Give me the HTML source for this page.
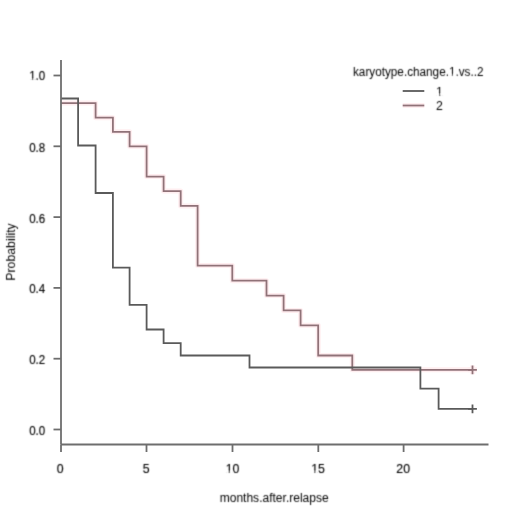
<!DOCTYPE html>
<html><head><meta charset="utf-8"><style>
html,body{margin:0;padding:0;background:#fff;}
svg{display:block;}
text{font-family:"Liberation Sans",sans-serif;font-size:12.3px;fill:#000;stroke:#000;stroke-width:0.0px;}
.tk{stroke-width:0.15px;font-size:12.9px;}
</style></head><body>
<svg width="520" height="520" viewBox="0 0 520 520">
<defs><filter id="s" filterUnits="userSpaceOnUse" x="0" y="0" width="520" height="520"><feConvolveMatrix order="3" kernelMatrix="1 4 1 4 16 4 1 4 1" divisor="36" preserveAlpha="false"/></filter></defs>
<rect width="520" height="520" fill="#fff"/>
<g>
<path d="M61.00,103.10 L95.60,103.10 L95.60,117.70 L112.90,117.70 L112.90,131.80 L129.60,131.80 L129.60,146.30 L146.60,146.30 L146.60,176.60 L163.60,176.60 L163.60,191.10 L180.70,191.10 L180.70,205.90 L197.60,205.90 L197.60,265.60 L232.30,265.60 L232.30,280.70 L266.50,280.70 L266.50,295.60 L283.60,295.60 L283.60,310.40 L300.60,310.40 L300.60,325.30 L318.20,325.30 L318.20,355.50 L352.30,355.50 L352.30,369.80 L472.50,369.80" stroke="#ffeef0" stroke-width="5.0" fill="none" stroke-linejoin="round"/><path d="M468.10,369.80 L476.90,369.80 M472.50,365.40 L472.50,374.20" stroke="#ffeef0" stroke-width="5.0" fill="none"/><line x1="402.7" y1="105.5" x2="424.3" y2="105.5" stroke="#ffeef0" stroke-width="5.0"/>
<path d="M61.00,103.10 L95.60,103.10 L95.60,117.70 L112.90,117.70 L112.90,131.80 L129.60,131.80 L129.60,146.30 L146.60,146.30 L146.60,176.60 L163.60,176.60 L163.60,191.10 L180.70,191.10 L180.70,205.90 L197.60,205.90 L197.60,265.60 L232.30,265.60 L232.30,280.70 L266.50,280.70 L266.50,295.60 L283.60,295.60 L283.60,310.40 L300.60,310.40 L300.60,325.30 L318.20,325.30 L318.20,355.50 L352.30,355.50 L352.30,369.80 L472.50,369.80" stroke="#907278" stroke-width="1.8" fill="none"/>
<path d="M468.10,369.80 L476.90,369.80 M472.50,365.40 L472.50,374.20" stroke="#907278" stroke-width="1.8" fill="none"/>
<path d="M61.00,98.50 L78.10,98.50 L78.10,145.50 L95.60,145.50 L95.60,193.00 L112.90,193.00 L112.90,267.70 L129.60,267.70 L129.60,304.90 L146.60,304.90 L146.60,329.50 L163.60,329.50 L163.60,343.10 L180.70,343.10 L180.70,355.50 L249.50,355.50 L249.50,367.50 L420.40,367.50 L420.40,388.70 L438.60,388.70 L438.60,408.80 L472.50,408.80" stroke="#5a5a5a" stroke-width="1.8" fill="none"/>
<path d="M468.10,408.80 L476.90,408.80 M472.50,404.40 L472.50,413.20" stroke="#5a5a5a" stroke-width="1.8" fill="none"/>
<g stroke="#6e6e6e" stroke-width="1.8" fill="none">
<line x1="61" y1="60" x2="61" y2="444.5"/>
<line x1="61" y1="444.5" x2="488.5" y2="444.5"/>
<line x1="53.5" y1="429.50" x2="61" y2="429.50"/><line x1="53.5" y1="358.70" x2="61" y2="358.70"/><line x1="53.5" y1="287.90" x2="61" y2="287.90"/><line x1="53.5" y1="217.10" x2="61" y2="217.10"/><line x1="53.5" y1="146.30" x2="61" y2="146.30"/><line x1="53.5" y1="75.50" x2="61" y2="75.50"/><line x1="61.00" y1="444.5" x2="61.00" y2="452"/><line x1="146.50" y1="444.5" x2="146.50" y2="452"/><line x1="232.50" y1="444.5" x2="232.50" y2="452"/><line x1="318.30" y1="444.5" x2="318.30" y2="452"/><line x1="403.60" y1="444.5" x2="403.60" y2="452"/>
</g>
<line x1="402.7" y1="91.0" x2="424.3" y2="91.0" stroke="#5a5a5a" stroke-width="1.8"/>
<line x1="402.7" y1="105.5" x2="424.3" y2="105.5" stroke="#907278" stroke-width="1.8"/>
</g>
<g filter="url(#s)">
<text class="tk" x="45.2" y="435.00" text-anchor="end" textLength="16.07" lengthAdjust="spacingAndGlyphs">0.0</text><text class="tk" x="45.2" y="364.20" text-anchor="end" textLength="16.07" lengthAdjust="spacingAndGlyphs">0.2</text><text class="tk" x="45.2" y="293.40" text-anchor="end" textLength="16.07" lengthAdjust="spacingAndGlyphs">0.4</text><text class="tk" x="45.2" y="222.60" text-anchor="end" textLength="16.07" lengthAdjust="spacingAndGlyphs">0.6</text><text class="tk" x="45.2" y="151.80" text-anchor="end" textLength="16.07" lengthAdjust="spacingAndGlyphs">0.8</text><text class="tk" x="45.2" y="80.40" text-anchor="end" textLength="16.07" lengthAdjust="spacingAndGlyphs">1.0</text>
<text class="tk" x="60.20" y="472.9" text-anchor="middle" textLength="6.84" lengthAdjust="spacingAndGlyphs">0</text><text class="tk" x="146.20" y="472.9" text-anchor="middle" textLength="6.84" lengthAdjust="spacingAndGlyphs">5</text><text class="tk" x="232.50" y="472.9" text-anchor="middle" textLength="13.68" lengthAdjust="spacingAndGlyphs">10</text><text class="tk" x="318.00" y="472.9" text-anchor="middle" textLength="13.68" lengthAdjust="spacingAndGlyphs">15</text><text class="tk" x="403.20" y="472.9" text-anchor="middle" textLength="13.68" lengthAdjust="spacingAndGlyphs">20</text>
<text x="274.2" y="501.5" text-anchor="middle" textLength="109" lengthAdjust="spacingAndGlyphs">months.after.relapse</text>
<text transform="translate(15.3,252) rotate(-90)" text-anchor="middle">Probability</text>
<text x="353" y="76.2" textLength="130.5" lengthAdjust="spacingAndGlyphs">karyotype.change.1.vs..2</text>
<text x="436.1" y="95.6">1</text>
<text x="435.9" y="110.3">2</text>
<rect x="29.69" y="79.10" width="2.34" height="1.90" fill="#fff" stroke="none"/><rect x="33.06" y="79.10" width="2.28" height="1.90" fill="#fff" stroke="none"/><rect x="226.26" y="471.60" width="2.49" height="1.90" fill="#fff" stroke="none"/><rect x="229.84" y="471.60" width="2.43" height="1.90" fill="#fff" stroke="none"/><rect x="311.76" y="471.60" width="2.49" height="1.90" fill="#fff" stroke="none"/><rect x="315.34" y="471.60" width="2.43" height="1.90" fill="#fff" stroke="none"/><rect x="436.70" y="94.30" width="2.49" height="1.90" fill="#fff" stroke="none"/><rect x="440.28" y="94.30" width="2.43" height="1.90" fill="#fff" stroke="none"/><rect x="449.50" y="74.90" width="2.38" height="1.90" fill="#fff" stroke="none"/><rect x="452.91" y="74.90" width="2.32" height="1.90" fill="#fff" stroke="none"/>
</g>
</svg>
</body></html>
